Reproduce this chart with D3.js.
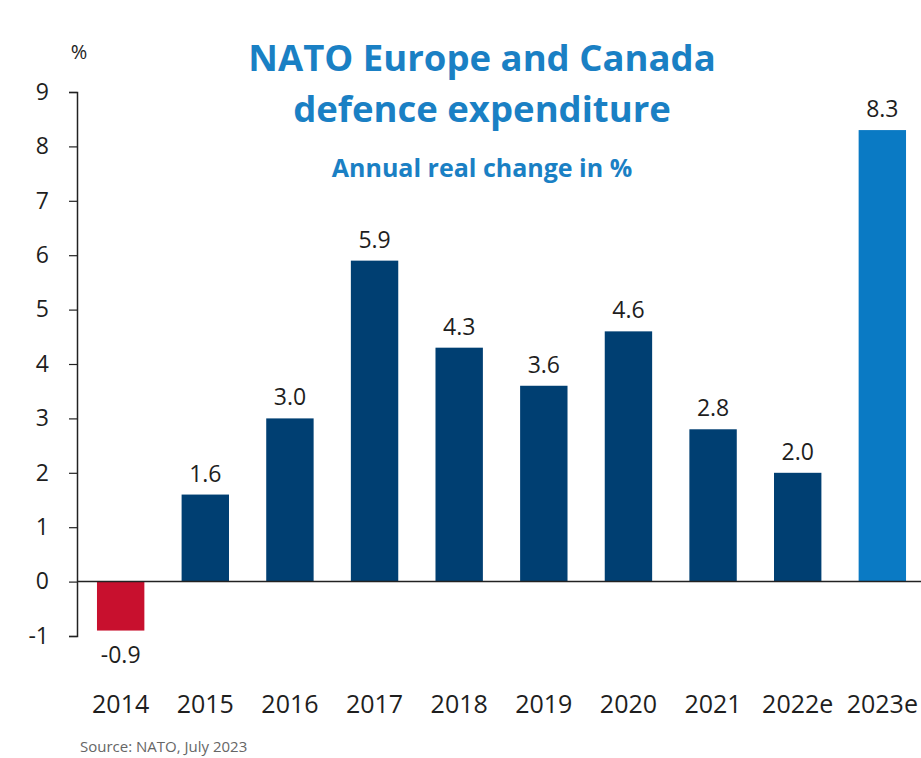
<!DOCTYPE html>
<html><head><meta charset="utf-8">
<script src="https://cdn.jsdelivr.net/npm/d3@7"></script>
<style>body{margin:0;background:#fff}svg{display:block}</style>
</head><body>
<script>
const categories = ["2014","2015","2016","2017","2018","2019","2020","2021","2022e","2023e"];
const values = [-0.9,1.6,3.0,5.9,4.3,3.6,4.6,2.8,2.0,8.3];
const barColors = ["#c8102e","#003f72","#003f72","#003f72","#003f72","#003f72","#003f72","#003f72","#003f72","#0a7ac4"];
const yTicks = [-1,0,1,2,3,4,5,6,7,8,9];
const titleLines = ["NATO Europe and Canada","defence expenditure"];
const subtitle = "Annual real change in %";
const source = "Source: NATO, July 2023";

const W=921,H=758;
const svg=d3.select("body").append("svg").attr("width",W).attr("height",H);
const font="'Open Sans', Lato, sans-serif";

const y=d3.scaleLinear().domain([-1,9]).range([636,92]);
const x=d3.scaleBand().domain(categories).range([77,926]).paddingInner(0.44).paddingOuter(0.236);

svg.selectAll("rect.bar").data(values).enter().append("rect")
  .attr("x",(d,i)=>x(categories[i]))
  .attr("width",x.bandwidth())
  .attr("y",d=>y(Math.max(0,d)))
  .attr("height",d=>Math.abs(y(d)-y(0)))
  .attr("fill",(d,i)=>barColors[i]);

// y axis
const yAxis=d3.axisLeft(y).tickValues(yTicks).tickSize(8).tickSizeOuter(8).tickFormat(d=>String(d));
const ga=svg.append("g").attr("transform","translate(77,0)").call(yAxis);
ga.select(".domain").attr("stroke","#222").attr("stroke-width",1.5);
ga.selectAll(".tick line").attr("stroke","#222").attr("stroke-width",1.2);
ga.selectAll(".tick text").attr("x",-28).attr("font-family",font).attr("font-size",23).attr("fill","#1e1e1e");

// zero line
svg.append("line").attr("x1",77).attr("x2",W).attr("y1",y(0)).attr("y2",y(0)).attr("stroke","#222").attr("stroke-width",1.5);

// value labels
svg.selectAll("text.val").data(values).enter().append("text")
  .attr("x",(d,i)=>x(categories[i])+x.bandwidth()/2)
  .attr("y",d=>d>=0?y(d)-13:y(d)+32)
  .attr("text-anchor","middle").attr("font-family",font).attr("font-size",23).attr("fill","#1e1e1e")
  .text(d=>d.toFixed(1));

// x labels
const xAxis=d3.axisBottom(x).tickSize(0);
const gx=svg.append("g").attr("transform","translate(0,713)").call(xAxis);
gx.select(".domain").remove();
gx.selectAll(".tick text").attr("y",0).attr("dy",0).attr("font-family",font).attr("font-size",25).attr("fill","#1e1e1e");

// % label
svg.append("text").attr("x",79).attr("y",59).attr("text-anchor","middle").attr("font-family",font).attr("font-size",20).attr("fill","#1e1e1e").text("%");

// titles
svg.selectAll("text.title").data(titleLines).enter().append("text")
  .attr("x",482).attr("y",(d,i)=>71+i*51).attr("text-anchor","middle")
  .attr("font-family",font).attr("font-weight","bold").attr("font-size",36.5).attr("fill","#1a80c4").text(d=>d);
svg.append("text").attr("x",482).attr("y",177).attr("text-anchor","middle")
  .attr("font-family",font).attr("font-weight","bold").attr("font-size",25).attr("fill","#1a80c4").text(subtitle);

svg.append("text").attr("x",80).attr("y",752).attr("font-family",font).attr("font-size",15).attr("fill","#666").text(source);
</script>
</body></html>
